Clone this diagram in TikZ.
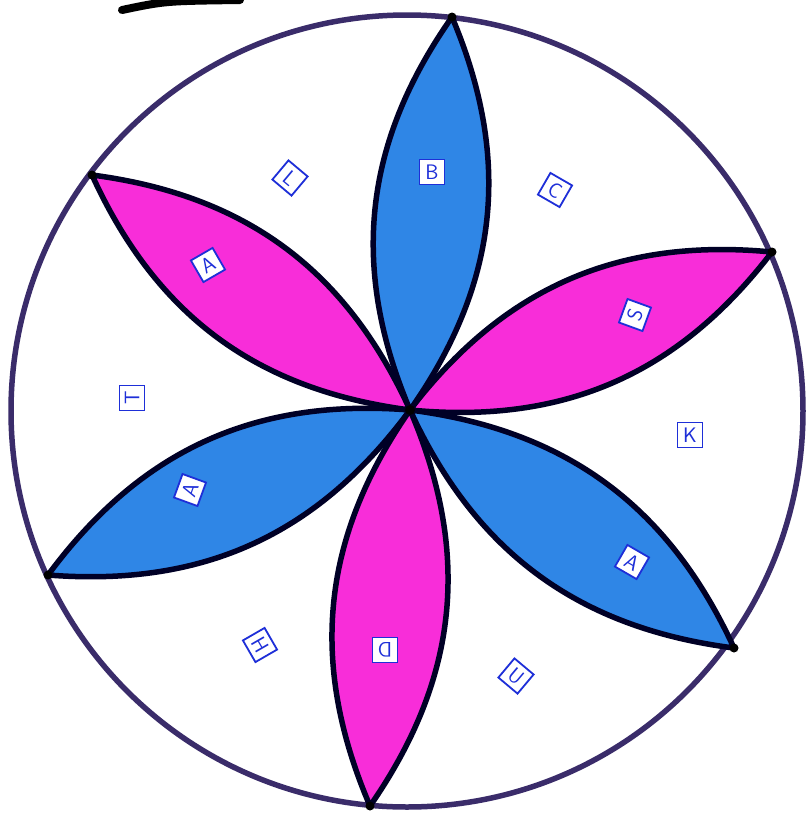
\documentclass[tikz,border=0pt]{standalone}
\usepackage{fontspec}
\usepackage{tikz}
\definecolor{ringcol}{HTML}{3A2C6A}
\definecolor{petalblue}{HTML}{2F86E6}
\definecolor{petalpink}{HTML}{F82DD9}
\definecolor{inkblue}{HTML}{1E2FD8}
\tikzset{
  ring/.style={draw=ringcol, line width=5.5pt},
  petal/.style={draw=black!85!blue, line width=5.5pt, line join=round},
  lbl/.style={draw=inkblue, fill=white, text=inkblue, line width=1.8pt,
              minimum width=25pt, minimum height=25pt, inner sep=1pt,
              font=\sffamily\fontsize{21}{21}\selectfont},
}
\begin{document}
\begin{tikzpicture}[x=1pt,y=-1pt]
\useasboundingbox (0,0) rectangle (811,823);
\fill[white] (0,0) rectangle (811,823);
% outer circle
\node[circle, ring, minimum size=792pt, inner sep=0pt] (ringc) at (407,411) {};
% flower centre and petal tips
\coordinate (c) at (410,410);
\coordinate (t1) at (452,17);
\coordinate (t2) at (772,252);
\coordinate (t3) at (734,648);
\coordinate (t4) at (370,806);
\coordinate (t5) at (48,575);
\coordinate (t6) at (92,175);
% petals
\draw[petal, fill=petalpink] (c) to[bend left=29] (t2) to[bend left=29] (c);
\draw[petal, fill=petalpink] (c) to[bend left=29] (t6) to[bend left=29] (c);
\draw[petal, fill=petalblue] (c) to[bend left=29] (t5) to[bend left=29] (c);
\draw[petal, fill=petalblue] (c) to[bend left=29] (t3) to[bend left=29] (c);
\draw[petal, fill=petalpink] (c) to[bend left=29] (t4) to[bend left=29] (c);
\draw[petal, fill=petalblue] (c) to[bend left=29] (t1) to[bend left=29] (c);
% dots where petals meet the ring
\foreach \t in {t1,t2,t3,t4,t5,t6} \fill[black] (\t) circle (4.5pt);
\fill[black] (c) circle (5pt);
% stray stroke at top
\draw[line width=8pt, line cap=round, black] (122,10) .. controls (165,1) .. (240,0);
% letter boxes
\node[lbl, rotate=-40] (l1) at (290,178) {L};
\node[lbl, rotate=0]   (l2) at (432,172) {B};
\node[lbl, rotate=-30] (l3) at (555,190) {C};
\node[lbl, rotate=30]  (l4) at (208,265) {A};
\node[lbl, rotate=70]  (l5) at (635,315) {S};
\node[lbl, rotate=90]  (l6) at (132,398) {T};
\node[lbl, rotate=0]   (l7) at (690,435) {K};
\node[lbl, rotate=70]  (l8) at (190,490) {A};
\node[lbl, rotate=-30] (l9) at (632,562) {A};
\node[lbl, rotate=-60] (l10) at (260,645) {H};
\node[lbl, rotate=180] (l11) at (385,650) {D};
\node[lbl, rotate=-40] (l12) at (516,676) {U};
\end{tikzpicture}
\end{document}
